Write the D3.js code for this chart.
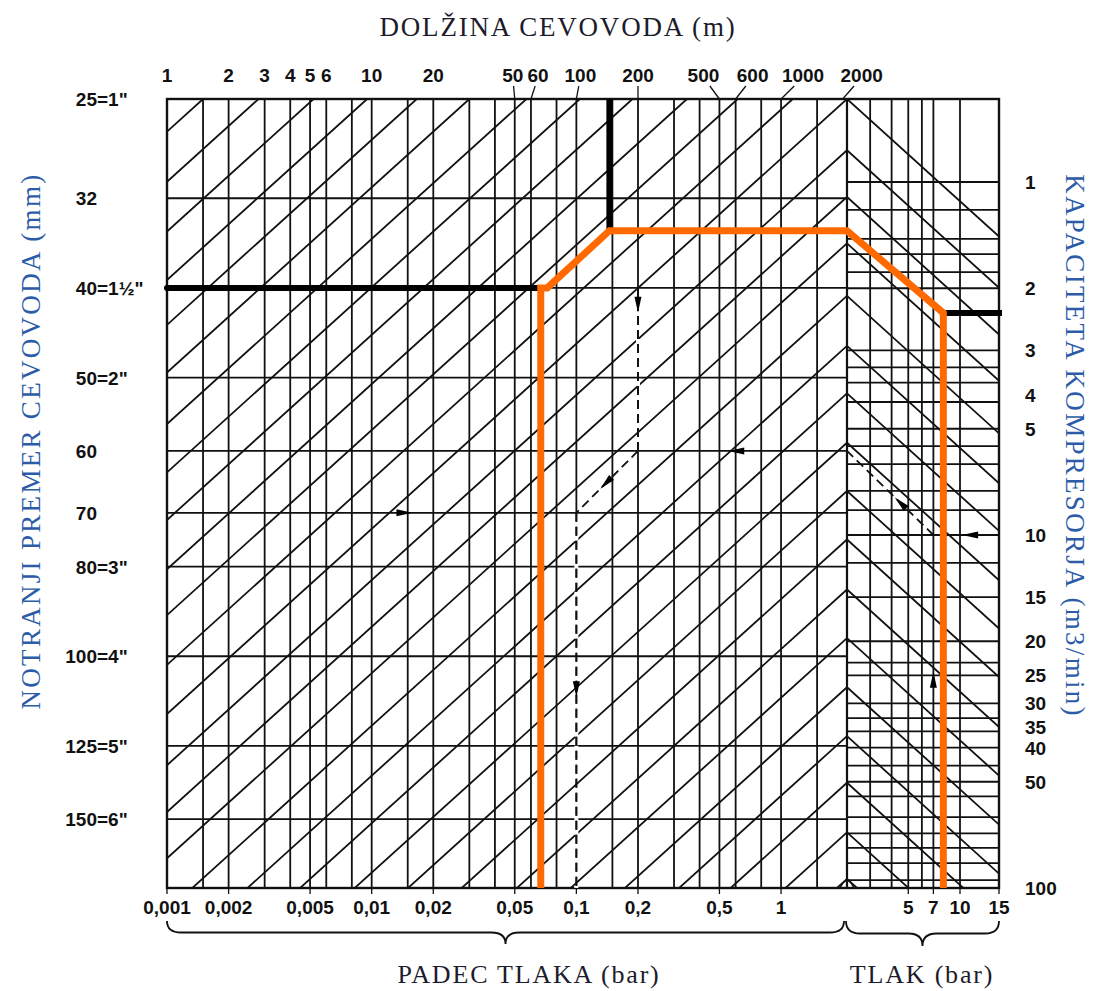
<!DOCTYPE html>
<html>
<head>
<meta charset="utf-8">
<script src="https://cdn.jsdelivr.net/npm/d3@7"></script>
<style>
body { margin: 0; background: #fff; }
svg { display: block; }
.num { font-family: "Liberation Sans", Arial, sans-serif; font-weight: bold; font-size: 19px; fill: #111; }
.title { font-family: "Liberation Serif", "Times New Roman", serif; font-size: 26px; letter-spacing: 1.8px; }
.side { font-size: 27px; letter-spacing: 2.3px; }
</style>
</head>
<body>
<script>
//top axis: pipe length (m)
var lengthTicks = [1, 2, 3, 4, 5, 6, 10, 20, 50, 60, 100, 200, 500, 600, 1000, 2000];
var lengthLeaders = [50, 60, 100, 200, 500, 600, 1000, 2000];

//bottom left axis: pressure drop (bar)
var dropTicks = [0.001, 0.002, 0.005, 0.01, 0.02, 0.05, 0.1, 0.2, 0.5, 1];
var dropGrid = [0.0015, 0.002, 0.003, 0.004, 0.005, 0.006, 0.008, 0.01, 0.015, 0.02, 0.03, 0.04,
    0.05, 0.06, 0.08, 0.1, 0.15, 0.2, 0.3, 0.4, 0.5, 0.6, 0.8, 1, 1.5];

//left axis: inner pipe diameter (mm)
var diameterTicks = [25, 32, 40, 50, 60, 70, 80, 100, 125, 150];
var diameterInch = ['1"', '', '1½"', '2"', '', '', '3"', '4"', '5"', '6"'];
var diameterGrid = [32, 40, 50, 60, 70, 80, 100, 125, 150];

//bottom right axis: pressure (bar)
var pressureTicks = [5, 7, 10, 15];
var pressureGrid = [3, 4, 5, 6, 7, 10];

//right axis: compressor capacity (m3/min)
var capacityTicks = [1, 2, 3, 4, 5, 10, 15, 20, 25, 30, 35, 40, 50, 100];
var capacityGrid = [1, 1.2, 1.45, 1.6, 1.8, 2, 3, 3.35, 3.7, 4.2, 5, 5.6, 6.3, 7.5, 8.5, 10, 12, 15,
    20, 23, 25, 30, 33, 36, 40, 45, 50, 55, 63, 70, 77, 85, 95];

//diagonals: where they cross the top edge (m) and where they meet the divider (mm)
var diagTopLength = [1.5, 2.8, 5.2, 9.5, 16.6, 30, 57, 104, 188, 347, 614, 1140];
var diagDivider = [25, 28.4, 31.9, 35.8, 40.8, 46.2, 52, 58.8, 66.3, 74.8, 84.7, 95.6, 108, 122, 137, 155, 174];

//worked solution (orange)
var solLength = 145, solLevel = 34.7, solDiameter = 40, solDrop = 0.067, solDropEnd = 0.072;
var solPressure = 8, solCapacity = 2.35;

//dashed guide example
var guideDiameter = 70, guideDrop = 0.1, guideLength = 200, guideLevel = 60, guideFrom = 40;
var guidePressure = 7, guideCapacity = 10;

var width = 1095, height = 991;
var X0 = 167, XM = 847, X1 = 999, Y0 = 99, Y1 = 888;

var svg = d3.select("body").append("svg")
    .attr("width", width)
    .attr("height", height);

var xDrop = d3.scaleLog().domain([0.001, 2.1]).range([X0, XM]);
var xLen = d3.scaleLog().domain([1, 2100]).range([X0, XM]);
var yDia = d3.scaleLog().domain([25, 178]).range([Y0, Y1]);
var xPres = d3.scaleLog().domain([2.2, 10, 15]).range([XM, 960, X1]);
var yCap = d3.scaleLog().domain([1, 100]).range([182, Y1]);

var line = d3.line();

//clip regions for the two panels
var defs = svg.append("defs");
defs.append("clipPath").attr("id", "clipL").append("rect")
    .attr("x", X0).attr("y", Y0).attr("width", XM - X0).attr("height", Y1 - Y0);
defs.append("clipPath").attr("id", "clipR").append("rect")
    .attr("x", XM).attr("y", Y0).attr("width", X1 - XM).attr("height", Y1 - Y0);

var grid = svg.append("g")
    .attr("stroke", "#111")
    .attr("stroke-width", 1.8)
    .attr("fill", "none");

//left panel grid
grid.selectAll(".vL").data(dropGrid).enter().append("line")
    .attr("x1", function(d){ return xDrop(d); }).attr("x2", function(d){ return xDrop(d); })
    .attr("y1", Y0).attr("y2", Y1);
grid.selectAll(".hL").data(diameterGrid).enter().append("line")
    .attr("x1", X0).attr("x2", XM)
    .attr("y1", function(d){ return yDia(d); }).attr("y2", function(d){ return yDia(d); });

//right panel grid
grid.selectAll(".vR").data(pressureGrid).enter().append("line")
    .attr("x1", function(d){ return xPres(d); }).attr("x2", function(d){ return xPres(d); })
    .attr("y1", Y0).attr("y2", Y1);
grid.selectAll(".hR").data(capacityGrid).enter().append("line")
    .attr("x1", XM).attr("x2", X1)
    .attr("y1", function(d){ return yCap(d); }).attr("y2", function(d){ return yCap(d); });

//diagonals: constant drop * d^5
var diagL = grid.append("g").attr("clip-path", "url(#clipL)");
diagL.selectAll(".dt").data(diagTopLength).enter().append("path")
    .attr("d", function(L){
        return line([[xLen(L), yDia(25)], [xLen(L * Math.pow(25 / 250, 5)), yDia(250)]]);
    });
diagL.selectAll(".dd").data(diagDivider).enter().append("path")
    .attr("d", function(m){
        return line([[xDrop(2.1), yDia(m)], [xDrop(2.1 * Math.pow(0.1, 5)), yDia(m * 10)]]);
    });
//right panel: mirror image of the left family
var diagR = grid.append("g").attr("clip-path", "url(#clipR)");
diagR.selectAll(".dr").data(diagDivider).enter().append("path")
    .attr("d", function(m){
        return line([[xDrop(2.1), yDia(m)], [2 * XM - xDrop(2.1 * Math.pow(0.1, 5)), yDia(m * 10)]]);
    });

//frame and divider
svg.append("rect")
    .attr("x", X0).attr("y", Y0).attr("width", X1 - X0).attr("height", Y1 - Y0)
    .attr("fill", "none").attr("stroke", "#111").attr("stroke-width", 2.4);
svg.append("line")
    .attr("x1", XM).attr("x2", XM).attr("y1", Y0).attr("y2", Y1)
    .attr("stroke", "#111").attr("stroke-width", 2.2);
svg.append("path")
    .attr("d", "M" + (XM - 7) + "," + Y1 + "Q" + XM + "," + (Y1 - 15) + " " + (XM + 7) + "," + Y1)
    .attr("fill", "none").attr("stroke", "#111").attr("stroke-width", 1.5);

//dashed guide example
var gA = [xDrop(0.001), yDia(guideDiameter)],
    gB = [xDrop(guideDrop), yDia(guideDiameter)],
    gC = [xDrop(guideDrop), Y1],
    gD = [xLen(guideLength), yDia(guideLevel)],
    gE = [xLen(guideLength), Y0],
    gF = [xLen(guideLength), yDia(guideFrom)],
    gG = [XM, yDia(guideLevel)],
    gH = [xPres(guidePressure), yCap(guideCapacity)],
    gI = [X1, yCap(guideCapacity)],
    gJ = [xPres(guidePressure), Y1];

var dashed = [[gB, gC], [gD, gB], [gF, gD], [gH, gG]];
var gapped = [[gB, gC], [gF, gD]];
svg.append("g").selectAll("path").data(gapped).enter().append("path")
    .attr("d", function(s){ return line(s); })
    .attr("stroke", "#fff").attr("stroke-width", 4)
    .attr("stroke-dasharray", "0 9 5 0");
svg.append("g").selectAll("path").data(dashed).enter().append("path")
    .attr("d", function(s){ return line(s); })
    .attr("stroke", "#111").attr("stroke-width", 1.8)
    .attr("stroke-dasharray", "9 5");

//thick black lines
var black = svg.append("g").attr("stroke", "#000").attr("stroke-width", 6).attr("fill", "none");
black.append("path").attr("d", line([[xLen(solLength), Y0], [xLen(solLength), yDia(solLevel)]]));
black.append("path").attr("stroke-linecap", "round")
    .attr("d", line([[xDrop(0.001), yDia(solDiameter)], [xDrop(solDropEnd), yDia(solDiameter)]]));
black.append("path").attr("stroke-linecap", "square")
    .attr("d", line([[xPres(solPressure), yCap(solCapacity)], [xPres(15), yCap(solCapacity)]]));

//orange solution path
svg.append("path")
    .attr("d", line([
        [xDrop(solDrop), yDia(178)],
        [xDrop(solDrop), yDia(solDiameter)],
        [xDrop(solDropEnd), yDia(solDiameter)],
        [xLen(solLength), yDia(solLevel)],
        [xPres(2.2), yDia(solLevel)],
        [xPres(solPressure), yCap(solCapacity)],
        [xPres(solPressure), yCap(100)]
    ]))
    .attr("fill", "none")
    .attr("stroke", "#ff6a00")
    .attr("stroke-width", 7)
    .attr("stroke-linejoin", "miter");

//arrowheads along the guide
var arrows = [[gA, gB, 0.58], [gB, gC, 0.47], [gD, gB, 0.52], [gE, gD, 0.585],
    [gG, gD, 0.53], [gH, gG, 0.38], [gI, gH, 0.44], [gJ, gH, 0.59]];
svg.append("g").selectAll("path").data(arrows).enter().append("path")
    .attr("transform", function(a){
        var x = a[0][0] + (a[1][0] - a[0][0]) * a[2],
            y = a[0][1] + (a[1][1] - a[0][1]) * a[2],
            ang = Math.atan2(a[1][1] - a[0][1], a[1][0] - a[0][0]) * 180 / Math.PI;
        return "translate(" + x + "," + y + ") rotate(" + ang + ")";
    })
    .attr("d", "M8,0L-8,-3.5L-8,3.5Z")
    .attr("fill", "#000");

//top labels with leaders
var lengthShift = {50: -2, 60: 7, 100: 4, 500: -16, 600: 17, 1000: 22, 2000: 19};
svg.append("g").selectAll("text").data(lengthTicks).enter().append("text")
    .attr("class", "num")
    .attr("x", function(d){ return xLen(d) + (lengthShift[d] || 0); })
    .attr("y", 82)
    .attr("text-anchor", "middle")
    .text(function(d){ return d; });
svg.append("g").selectAll("line").data(lengthLeaders).enter().append("line")
    .attr("x1", function(d){ return xLen(d) + (lengthShift[d] || 0) * 0.6; })
    .attr("x2", function(d){ return xLen(d); })
    .attr("y1", 86).attr("y2", Y0)
    .attr("stroke", "#111").attr("stroke-width", 1.3);

//left labels
var leftLab = svg.append("g").selectAll("g").data(diameterTicks).enter().append("g");
leftLab.append("text").attr("class", "num")
    .attr("x", 97).attr("y", function(d){ return yDia(d) + 7; })
    .attr("text-anchor", "end")
    .text(function(d){ return d; });
leftLab.append("text").attr("class", "num")
    .attr("x", 97).attr("y", function(d){ return yDia(d) + 7; })
    .text(function(d, i){ return diameterInch[i] ? "=" + diameterInch[i] : ""; });

//right labels
svg.append("g").selectAll("text").data(capacityTicks).enter().append("text")
    .attr("class", "num")
    .attr("x", 1025)
    .attr("y", function(d){ return yCap(d) + 7; })
    .text(function(d){ return d; });

//bottom labels and ticks
var fmt = function(d){ return String(d).replace(".", ","); };
svg.append("g").selectAll("text").data(dropTicks).enter().append("text")
    .attr("class", "num").attr("text-anchor", "middle")
    .attr("x", function(d){ return xDrop(d); }).attr("y", 914)
    .text(fmt);
svg.append("g").selectAll("text").data(pressureTicks).enter().append("text")
    .attr("class", "num").attr("text-anchor", "middle")
    .attr("x", function(d){ return xPres(d); }).attr("y", 914)
    .text(fmt);
svg.append("g").selectAll("line").data(dropTicks.map(xDrop).concat(pressureTicks.map(xPres)))
    .enter().append("line")
    .attr("x1", function(d){ return d; }).attr("x2", function(d){ return d; })
    .attr("y1", Y1).attr("y2", Y1 + 6)
    .attr("stroke", "#111").attr("stroke-width", 1.3);

//braces
function brace(x1, x2, y, h) {
    var m = (x1 + x2) / 2, q = 14, c = y + h / 2;
    return "M" + x1 + "," + y + "Q" + x1 + "," + c + " " + (x1 + q) + "," + c +
        "L" + (m - q) + "," + c + "Q" + m + "," + c + " " + m + "," + (y + h) +
        "Q" + m + "," + c + " " + (m + q) + "," + c +
        "L" + (x2 - q) + "," + c + "Q" + x2 + "," + c + " " + x2 + "," + y;
}
svg.append("path").attr("d", brace(X0, XM - 3, 921, 23))
    .attr("fill", "none").attr("stroke", "#111").attr("stroke-width", 1.8);
svg.append("path").attr("d", brace(XM - 1, X1, 921, 25))
    .attr("fill", "none").attr("stroke", "#111").attr("stroke-width", 1.8);

//titles
svg.append("text").attr("class", "title").attr("fill", "#1c1c2c")
    .attr("x", 558).attr("y", 36).attr("text-anchor", "middle")
    .style("font-size", "27px")
    .text("DOLŽINA CEVOVODA (m)");
svg.append("text").attr("class", "title").attr("fill", "#1c1c2c")
    .attr("x", 529).attr("y", 983).attr("text-anchor", "middle")
    .text("PADEC TLAKA (bar)");
svg.append("text").attr("class", "title").attr("fill", "#1c1c2c")
    .attr("x", 922).attr("y", 983).attr("text-anchor", "middle")
    .text("TLAK (bar)");
svg.append("text").attr("class", "title side").attr("fill", "#2c5ca8")
    .attr("transform", "translate(40,441) rotate(-90)")
    .attr("text-anchor", "middle")
    .text("NOTRANJI PREMER CEVOVODA (mm)");
svg.append("text").attr("class", "title side").attr("fill", "#2c5ca8")
    .attr("transform", "translate(1066,446) rotate(90)")
    .attr("text-anchor", "middle")
    .text("KAPACITETA KOMPRESORJA (m3/min)");
</script>
</body>
</html>
